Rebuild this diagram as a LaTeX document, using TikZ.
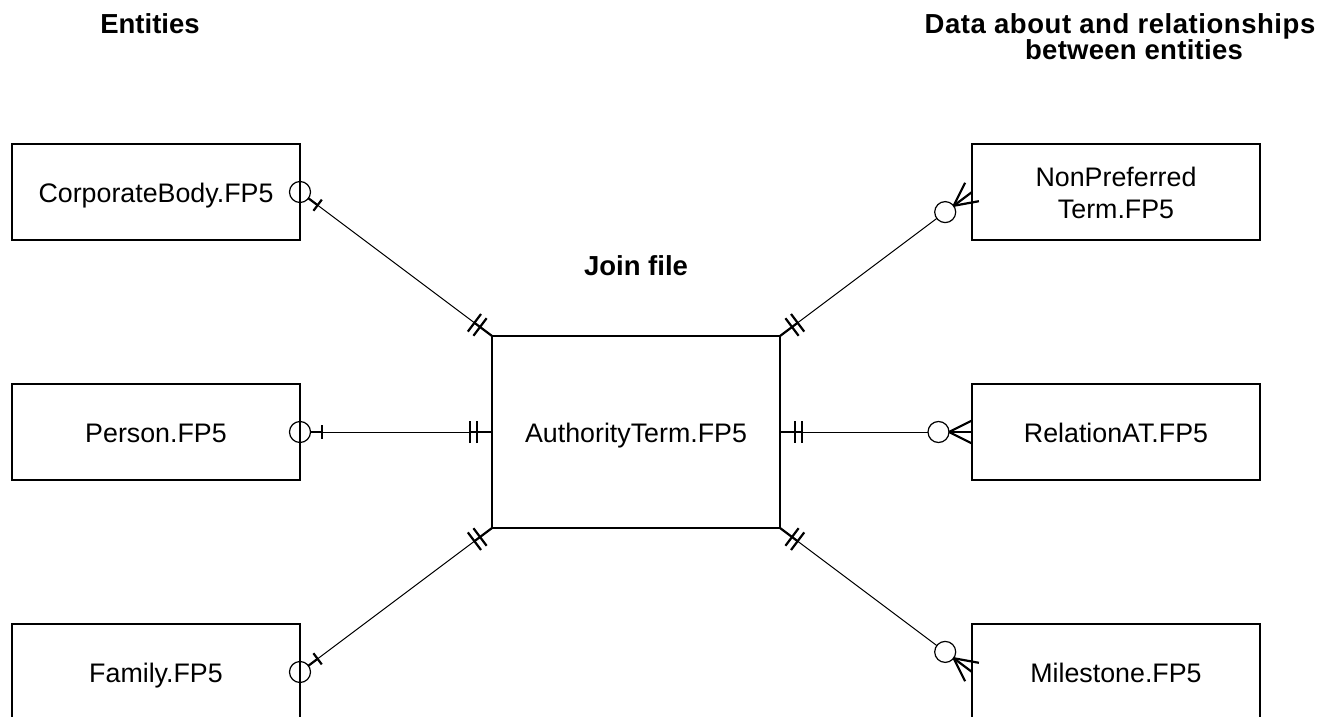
\documentclass[tikz,border=0pt]{standalone}
\usepackage{fontspec}
\setmainfont{Liberation Sans}
\usetikzlibrary{calc}

\tikzset{
  entity/.style={draw, line width=1.2pt, minimum width=288pt, minimum height=96pt,
    inner sep=0pt, outer sep=0pt, font=\fontsize{26.8}{32}\selectfont,
    text height=20pt, text depth=0pt},
  joinbox/.style={entity, minimum height=192pt},
  bodytext/.style={inner sep=0pt, font=\fontsize{26.8}{32}\selectfont},
  heading/.style={inner sep=0pt, font=\bfseries\fontsize{27.5}{23.5}\selectfont},
  link/.style={line width=1pt},
  ring/.style={line width=1.2pt},
  heavy/.style={line width=2.2pt},
}

% entity end: optional single (circle centred on the edge, then one bar)
\newcommand\zeroOrOne[2]{%
  \draw[ring] (#1) circle[radius=10.5pt];
  \coordinate (zt) at ($(#1)!22pt!(#2)$);
  \draw[heavy] ($(#1)!10.5pt!(#2)$) -- (zt);
  \draw[heavy] ($(zt)!7pt!90:(#2)$) -- ($(zt)!7pt!-90:(#2)$);
  \draw[link] ($(#1)!10.5pt!(#2)$) -- (#2);
}
% join-file end: exactly one (two bars)
\newcommand\exactlyOne[2]{%
  \draw[heavy] (#1) -- ($(#1)!23pt!(#2)$);
  \coordinate (ea) at ($(#1)!15pt!(#2)$);
  \coordinate (eb) at ($(#1)!22pt!(#2)$);
  \draw[heavy] ($(ea)!11pt!90:(#2)$) -- ($(ea)!11pt!-90:(#2)$);
  \draw[heavy] ($(eb)!11pt!90:(#2)$) -- ($(eb)!11pt!-90:(#2)$);
}
% entity end: zero or many (crow's foot, then circle)
\newcommand\zeroOrMany[2]{%
  \coordinate (mc) at ($(#1)!33.5pt!(#2)$);
  \coordinate (mx) at ($(#1)!23pt!(#2)$);
  \draw[ring] (mc) circle[radius=10.5pt];
  \draw[heavy] (mx) -- (#1);
  \draw[heavy] (mx) -- ($(#1)!11.5pt!90:(#2)$);
  \draw[heavy] (mx) -- ($(#1)!11.5pt!-90:(#2)$);
  \draw[link] ($(#1)!44pt!(#2)$) -- (#2);
}

\begin{document}
\begin{tikzpicture}[x=1pt,y=-1pt]
  \useasboundingbox (0,0) rectangle (1331,717);
  \clip (0,0) rectangle (1331,717);

  % column headings
  \node[heading, anchor=base] (hleft) at (150,34) {Entities};
  \node[heading, anchor=north, align=center] (hright) at (1120,13)
    {{\addfontfeature{LetterSpace=2}Data about and relationships}\\
     \hspace*{28pt}{\addfontfeature{LetterSpace=1}between entities}};
  \node[heading, anchor=base] (hjoin) at (636,275) {Join file};

  % entity files
  \node[entity] (cb) at (156,192) {CorporateBody.FP5};
  \node[entity] (pe) at (156,432) {Person.FP5};
  \node[entity] (fa) at (156,672) {Family.FP5};

  % join file
  \node[joinbox] (at) at (636,432) {AuthorityTerm.FP5};

  % related data files
  \node[entity] (np) at (1116,192) {};
  \node[bodytext, align=center] (nptext) at (1116,193) {NonPreferred\\Term.FP5};
  \node[entity] (ra) at (1116,432) {RelationAT.FP5};
  \node[entity] (ms) at (1116,672) {Milestone.FP5};

  % relationships
  \zeroOrOne{cb.east}{at.north west}
  \exactlyOne{at.north west}{cb.east}
  \zeroOrOne{pe.east}{at.west}
  \exactlyOne{at.west}{pe.east}
  \zeroOrOne{fa.east}{at.south west}
  \exactlyOne{at.south west}{fa.east}

  \zeroOrMany{np.west}{at.north east}
  \exactlyOne{at.north east}{np.west}
  \zeroOrMany{ra.west}{at.east}
  \exactlyOne{at.east}{ra.west}
  \zeroOrMany{ms.west}{at.south east}
  \exactlyOne{at.south east}{ms.west}
\end{tikzpicture}
\end{document}
